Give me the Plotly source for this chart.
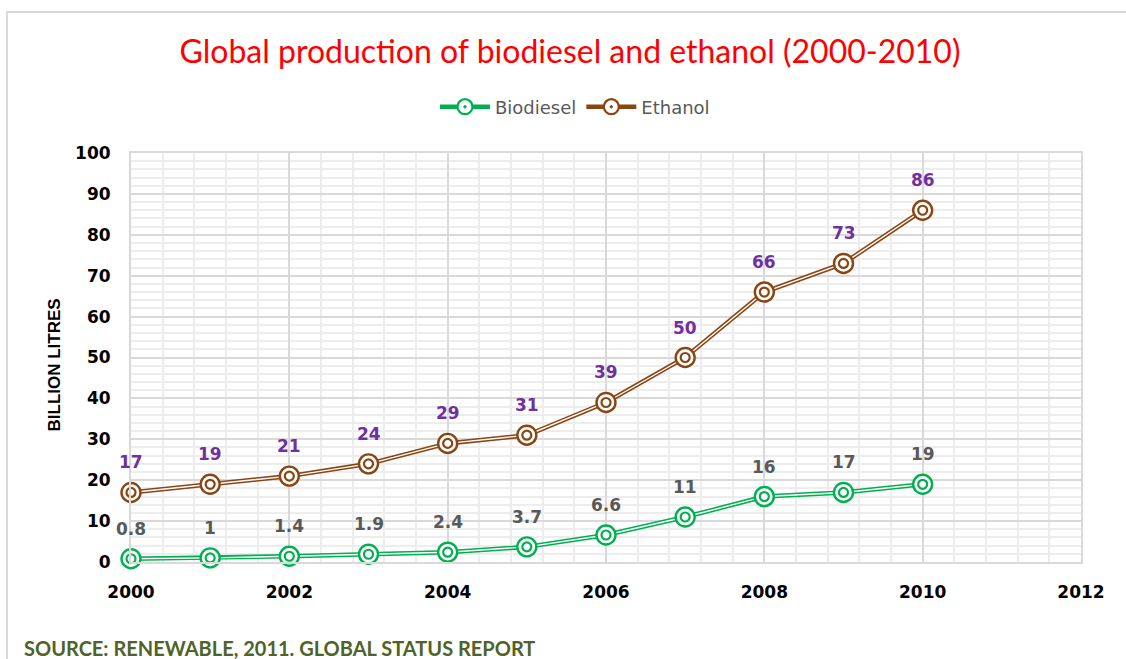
import plotly.graph_objects as go

# Global production (billion litres), 2000-2010
years = [2000, 2001, 2002, 2003, 2004, 2005, 2006, 2007, 2008, 2009, 2010]
biodiesel = [0.8, 1, 1.4, 1.9, 2.4, 3.7, 6.6, 11, 16, 17, 19]
ethanol = [17, 19, 21, 24, 29, 31, 39, 50, 66, 73, 86]

series_names = ["Biodiesel", "Ethanol"]
series_values = [biodiesel, ethanol]
series_colors = ["#00B050", "#8B4513"]
label_colors = ["#595959", "#7030A0"]

W, H = 1126, 659
L, R, T, B = 131, 45, 153, 97
PW, PH = W - L - R, H - T - B


def px_x(p):
    return (p - L) / PW


def px_y(p):
    return (H - B - p) / PH


fig = go.Figure()

for name, vals, col in zip(series_names, series_values, series_colors):
    # coloured outer stroke of the double line (carries the legend entry)
    fig.add_trace(go.Scatter(
        x=years, y=vals, name=name, mode="lines+markers",
        line=dict(color=col, width=4.5),
        marker=dict(symbol="circle-dot", size=15, color="white",
                    line=dict(color=col, width=2.2)),
        cliponaxis=False, legendgroup=name, hoverinfo="skip",
    ))
    # white core of the double line
    fig.add_trace(go.Scatter(
        x=years, y=vals, mode="lines", showlegend=False,
        line=dict(color="white", width=1.4),
        cliponaxis=False, hoverinfo="skip",
    ))
    # bullseye markers: outer ring
    fig.add_trace(go.Scatter(
        x=years, y=vals, mode="markers", showlegend=False,
        marker=dict(symbol="circle", size=19, color="white",
                    line=dict(color=col, width=2.4)),
        cliponaxis=False, hoverinfo="skip",
    ))
    # bullseye markers: inner ring
    fig.add_trace(go.Scatter(
        x=years, y=vals, mode="markers", showlegend=False,
        marker=dict(symbol="circle-open", size=9, color=col,
                    line=dict(color=col, width=2.2)),
        cliponaxis=False, hoverinfo="y+name",
    ))

annotations = []
for vals, lc in zip(series_values, label_colors):
    for x, v in zip(years, vals):
        annotations.append(dict(
            x=x, y=v, xref="x", yref="y", text=f"{v:g}", showarrow=False,
            yshift=30, font=dict(family="DejaVu Sans", size=17, color=lc,
                                 weight="bold"),
        ))

annotations.append(dict(
    x=px_x(42), y=px_y(365), xref="paper", yref="paper",
    text="BILLION LITRES", textangle=-90, showarrow=False,
    font=dict(family="Liberation Sans", size=17, color="black", weight="bold"),
))
annotations.append(dict(
    x=px_x(22), y=px_y(648), xref="paper", yref="paper", xanchor="left",
    yanchor="middle", text="SOURCE: RENEWABLE, 2011. GLOBAL STATUS REPORT",
    showarrow=False,
    font=dict(family="Lato", size=20, color="#4F6228", weight="bold"),
))

grid_major = "#D9D9D9"
grid_minor = "#EDEDED"

fig.update_layout(
    width=W, height=H,
    margin=dict(l=L, r=R, t=T, b=B, autoexpand=False),
    paper_bgcolor="white", plot_bgcolor="white",
    title=dict(
        text="Global production of biodiesel and ethanol (2000-2010)",
        x=570 / W, xref="container", xanchor="center",
        y=1 - 52 / H, yref="container", yanchor="middle",
        font=dict(family="Lato", size=32, color="#FF0000"),
    ),
    legend=dict(
        orientation="h", x=575 / W, xref="container", xanchor="center",
        y=1 - 107 / H, yref="container", yanchor="middle",
        font=dict(family="DejaVu Sans", size=18, color="#595959"),
        itemwidth=50,
    ),
    xaxis=dict(
        range=[2000, 2012], tick0=2000, dtick=2, showgrid=True,
        gridcolor=grid_major, gridwidth=2,
        minor=dict(tick0=2000, dtick=0.4, showgrid=True,
                   gridcolor=grid_minor, gridwidth=2),
        showline=True, linecolor=grid_major, linewidth=2, mirror=True,
        zeroline=False, ticks="", ticklabelstandoff=14,
        tickfont=dict(family="DejaVu Sans", size=17, color="black",
                      weight="bold"),
    ),
    yaxis=dict(
        range=[0, 100], tick0=0, dtick=10, showgrid=True,
        gridcolor=grid_major, gridwidth=2,
        minor=dict(tick0=0, dtick=2, showgrid=True,
                   gridcolor=grid_minor, gridwidth=2),
        showline=True, linecolor=grid_major, linewidth=2, mirror=True,
        zeroline=False, ticks="", ticklabelstandoff=15,
        tickfont=dict(family="DejaVu Sans", size=17, color="black",
                      weight="bold"),
    ),
    annotations=annotations,
    shapes=[dict(
        type="rect", xref="paper", yref="paper",
        x0=px_x(7), x1=px_x(1135), y0=px_y(700), y1=px_y(12),
        line=dict(color="#D9D9D9", width=2), fillcolor="rgba(0,0,0,0)",
        layer="below",
    )],
)

fig.write_html("out.html")
